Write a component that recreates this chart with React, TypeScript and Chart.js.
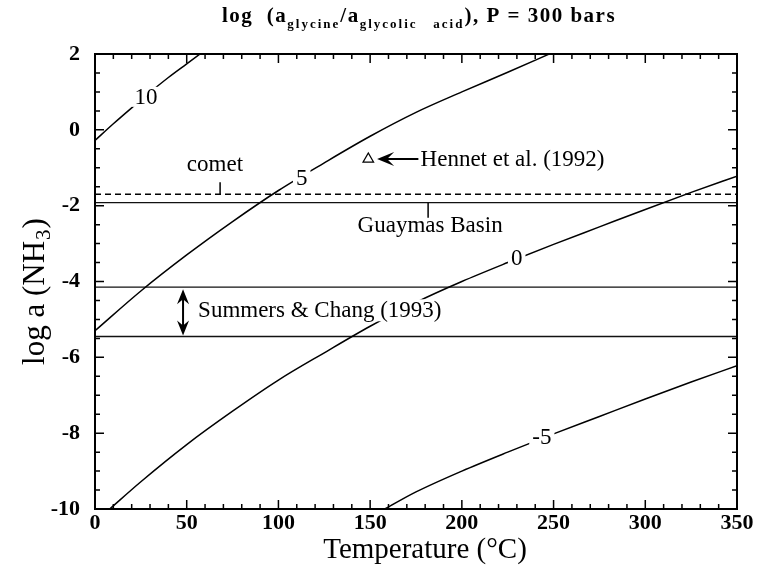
import React, { useEffect, useRef } from "react";
import { Chart, registerables } from "chart.js";

Chart.register(...registerables);

// ---- data ----
const curve10T = [0, 10, 20, 30, 40, 50, 60];
const curve10V = [-0.28, 0.16, 0.58, 0.99, 1.38, 1.74, 2.1];

const curve5T = [0, 25, 50, 75, 100, 125, 150, 175, 200, 225, 250];
const curve5V = [-5.3, -4.25, -3.3, -2.42, -1.6, -0.87, -0.17, 0.46, 1.0, 1.52, 2.05];

const curve0T = [8, 25, 50, 75, 100, 125, 150, 175, 200, 225, 250, 275, 300, 325, 350];
const curve0V = [-10, -9.28, -8.3, -7.42, -6.6, -5.88, -5.18, -4.55, -4.0, -3.5, -3.02, -2.56, -2.1, -1.65, -1.22];

const curveM5T = [158, 175, 200, 225, 250, 275, 300, 325, 350];
const curveM5V = [-10, -9.55, -9.0, -8.5, -8.02, -7.56, -7.1, -6.65, -6.22];

const cometLevel = -1.7;
const guaymasLevel = -1.92;
const summersUpper = -4.15;
const summersLower = -5.45;

const hennetT = [149];
const hennetV = [-0.77];

const xRange = [0, 350];
const yRange = [-10, 2];

const curveLabelText = ["10", "5", "0", "-5"];
const curveLabelT = [27.8, 112.7, 229.9, 243.6];
const curveLabelV = [0.87, -1.28, -3.38, -8.11];

const SERIF = '"Liberation Serif", "Times New Roman", serif';

const toPts = (ts: number[], vs: number[]) => ts.map((t, i) => ({ x: t, y: vs[i] }));

const overlayPlugin = {
  id: "overlay",
  afterDatasetsDraw(chart: any) {
    const { ctx, chartArea: a, scales } = chart;
    const xs = scales.x;
    const ys = scales.y;
    const px = (t: number) => xs.getPixelForValue(t);
    const py = (v: number) => ys.getPixelForValue(v);
    ctx.save();
    ctx.fillStyle = "#000";
    ctx.strokeStyle = "#000";

    // curve labels (white gap behind)
    ctx.font = `23px ${SERIF}`;
    ctx.textAlign = "center";
    ctx.textBaseline = "middle";
    curveLabelText.forEach((text, i) => {
      const cx = px(curveLabelT[i]);
      const cy = py(curveLabelV[i]);
      const w = ctx.measureText(text).width;
      ctx.fillStyle = "#fff";
      ctx.fillRect(cx - w / 2 - 3, cy - 10, w + 6, 20);
      ctx.fillStyle = "#000";
      ctx.fillText(text, cx, cy + 1);
    });

    // comet
    ctx.font = `23px ${SERIF}`;
    ctx.fillText("comet", px(65.4), py(-0.92));
    ctx.lineWidth = 1.5;
    ctx.beginPath();
    ctx.moveTo(px(68.2), py(cometLevel));
    ctx.lineTo(px(68.2), py(cometLevel) - 12);
    ctx.stroke();

    // Guaymas Basin
    ctx.fillText("Guaymas Basin", px(182.7), py(-2.53));
    ctx.beginPath();
    ctx.moveTo(px(181.6), py(guaymasLevel));
    ctx.lineTo(px(181.6), py(guaymasLevel) + 15);
    ctx.stroke();

    // Hennet arrow + text
    const hy = py(hennetV[0]);
    ctx.textAlign = "left";
    ctx.fillText("Hennet et al. (1992)", px(177.5), hy + 1);
    const tipX = px(153.8);
    ctx.lineWidth = 2;
    ctx.beginPath();
    ctx.moveTo(px(176.3), hy);
    ctx.lineTo(tipX + 8, hy);
    ctx.stroke();
    ctx.beginPath();
    ctx.moveTo(tipX, hy);
    ctx.lineTo(tipX + 17, hy - 7);
    ctx.lineTo(tipX + 10, hy);
    ctx.lineTo(tipX + 17, hy + 7);
    ctx.closePath();
    ctx.fill();

    // Summers & Chang
    const sx = px(48);
    const sTop = py(summersUpper) + 2;
    const sBot = py(summersLower) - 1;
    const stext = "Summers & Chang (1993)";
    const sty = py(-4.76);
    const sw = ctx.measureText(stext).width;
    ctx.fillStyle = "#fff";
    ctx.fillRect(px(56.2) - 2, sty - 11, sw + 4, 22);
    ctx.fillStyle = "#000";
    ctx.fillText(stext, px(56.2), sty + 1);
    ctx.lineWidth = 2;
    ctx.beginPath();
    ctx.moveTo(sx, sTop + 8);
    ctx.lineTo(sx, sBot - 8);
    ctx.stroke();
    ctx.beginPath();
    ctx.moveTo(sx, sTop);
    ctx.lineTo(sx - 6, sTop + 15);
    ctx.lineTo(sx, sTop + 10);
    ctx.lineTo(sx + 6, sTop + 15);
    ctx.closePath();
    ctx.fill();
    ctx.beginPath();
    ctx.moveTo(sx, sBot);
    ctx.lineTo(sx - 6, sBot - 15);
    ctx.lineTo(sx, sBot - 10);
    ctx.lineTo(sx + 6, sBot - 15);
    ctx.closePath();
    ctx.fill();

    // frame
    ctx.lineWidth = 2;
    ctx.strokeRect(a.left, a.top, a.right - a.left, a.bottom - a.top);

    // inward ticks
    ctx.lineWidth = 1.5;
    ctx.beginPath();
    for (let t = xRange[0]; t <= xRange[1]; t += 10) {
      const len = t % 50 === 0 ? 9 : 5;
      const x = px(t);
      ctx.moveTo(x, a.bottom);
      ctx.lineTo(x, a.bottom - len);
      ctx.moveTo(x, a.top);
      ctx.lineTo(x, a.top + len);
    }
    for (let v = yRange[0]; v <= yRange[1] + 1e-9; v += 0.5) {
      const len = Math.abs(v % 2) < 1e-9 ? 9 : 5;
      const y = py(v);
      ctx.moveTo(a.left, y);
      ctx.lineTo(a.left + len, y);
      ctx.moveTo(a.right, y);
      ctx.lineTo(a.right - len, y);
    }
    ctx.stroke();

    // title with subscripts
    const mainF = `bold 21px ${SERIF}`;
    const subF = `bold 13px ${SERIF}`;
    const pieces: [string, boolean][] = [
      ["log  (a", false],
      ["glycine", true],
      ["/a", false],
      ["glycolic   acid", true],
      ["), P = 300 bars", false],
    ];
    const c: any = ctx;
    let tx = 222;
    ctx.textAlign = "left";
    ctx.textBaseline = "alphabetic";
    pieces.forEach(([s, sub]) => {
      ctx.font = sub ? subF : mainF;
      c.letterSpacing = sub ? "2px" : "1.5px";
      ctx.fillText(s, tx, sub ? 28 : 22);
      tx += ctx.measureText(s).width;
    });
    c.letterSpacing = "0px";

    // x axis title
    ctx.font = `29px ${SERIF}`;
    ctx.textAlign = "center";
    ctx.textBaseline = "middle";
    ctx.fillText("Temperature (°C)", (a.left + a.right) / 2 + 9, a.bottom + 41);

    // y axis title (rotated) with subscript
    ctx.save();
    ctx.translate(33, (a.top + a.bottom) / 2 + 10);
    ctx.rotate(-Math.PI / 2);
    const yMain = `31px ${SERIF}`;
    const ySub = `21px ${SERIF}`;
    ctx.font = yMain;
    const w1 = ctx.measureText("log a (NH").width;
    const w3 = ctx.measureText(")").width;
    ctx.font = ySub;
    const w2 = ctx.measureText("3").width + 2;
    let yx = -(w1 + w2 + w3) / 2;
    ctx.textAlign = "left";
    ctx.textBaseline = "alphabetic";
    ctx.font = yMain;
    ctx.fillText("log a (NH", yx, 11);
    yx += w1;
    ctx.font = ySub;
    ctx.fillText("3", yx + 1, 17);
    yx += w2;
    ctx.font = yMain;
    ctx.fillText(")", yx, 11);
    ctx.restore();

    ctx.restore();
  },
};

export default function App() {
  const ref = useRef<HTMLCanvasElement | null>(null);
  useEffect(() => {
    if (!ref.current) return;
    const lineDs = (pts: any[], extra: any = {}) => ({
      type: "line",
      data: pts,
      borderColor: "#000",
      borderWidth: 1.5,
      pointRadius: 0,
      fill: false,
      cubicInterpolationMode: "monotone",
      ...extra,
    });
    const chart = new Chart(ref.current, {
      type: "line",
      data: {
        datasets: [
          lineDs(toPts(curve10T, curve10V)),
          lineDs(toPts(curve5T, curve5V)),
          lineDs(toPts(curve0T, curve0V)),
          lineDs(toPts(curveM5T, curveM5V)),
          lineDs(toPts(xRange, [cometLevel, cometLevel]), { borderDash: [6, 4], borderWidth: 1.4 }),
          lineDs(toPts(xRange, [guaymasLevel, guaymasLevel]), { borderWidth: 1.3, borderColor: "#111" }),
          lineDs(toPts(xRange, [summersUpper, summersUpper]), { borderWidth: 1.3, borderColor: "#111" }),
          lineDs(toPts(xRange, [summersLower, summersLower]), { borderWidth: 1.3, borderColor: "#111" }),
          {
            type: "scatter",
            data: toPts(hennetT, hennetV),
            pointStyle: "triangle",
            pointRadius: 6,
            borderWidth: 1.3,
            borderColor: "#000",
            backgroundColor: "#fff",
          } as any,
        ] as any,
      },
      options: {
        animation: false,
        responsive: false,
        devicePixelRatio: 1,
        layout: { padding: { left: 0, top: 54, right: 22, bottom: 0 } },
        plugins: { legend: { display: false }, tooltip: { enabled: false }, title: { display: false } },
        scales: {
          x: {
            type: "linear",
            min: xRange[0],
            max: xRange[1],
            grid: { display: false },
            border: { display: false },
            ticks: {
              stepSize: 50,
              autoSkip: false,
              maxRotation: 0,
              padding: -7,
              color: "#000",
              font: { family: SERIF, size: 22, weight: "bold" },
            },
            afterFit: (s: any) => {
              s.height = 66;
            },
          },
          y: {
            type: "linear",
            min: yRange[0],
            max: yRange[1],
            grid: { display: false },
            border: { display: false },
            ticks: {
              stepSize: 2,
              padding: 7,
              color: "#000",
              font: { family: SERIF, size: 22, weight: "bold" },
            },
            afterFit: (s: any) => {
              s.width = 95;
            },
          },
        },
      } as any,
      plugins: [overlayPlugin],
    });
    return () => chart.destroy();
  }, []);
  return (
    <div style={{ position: "fixed", left: 0, top: 0, width: 759, height: 575, background: "#fff" }}>
      <canvas ref={ref} width={759} height={575} style={{ width: 759, height: 575, display: "block" }} />
    </div>
  );
}
